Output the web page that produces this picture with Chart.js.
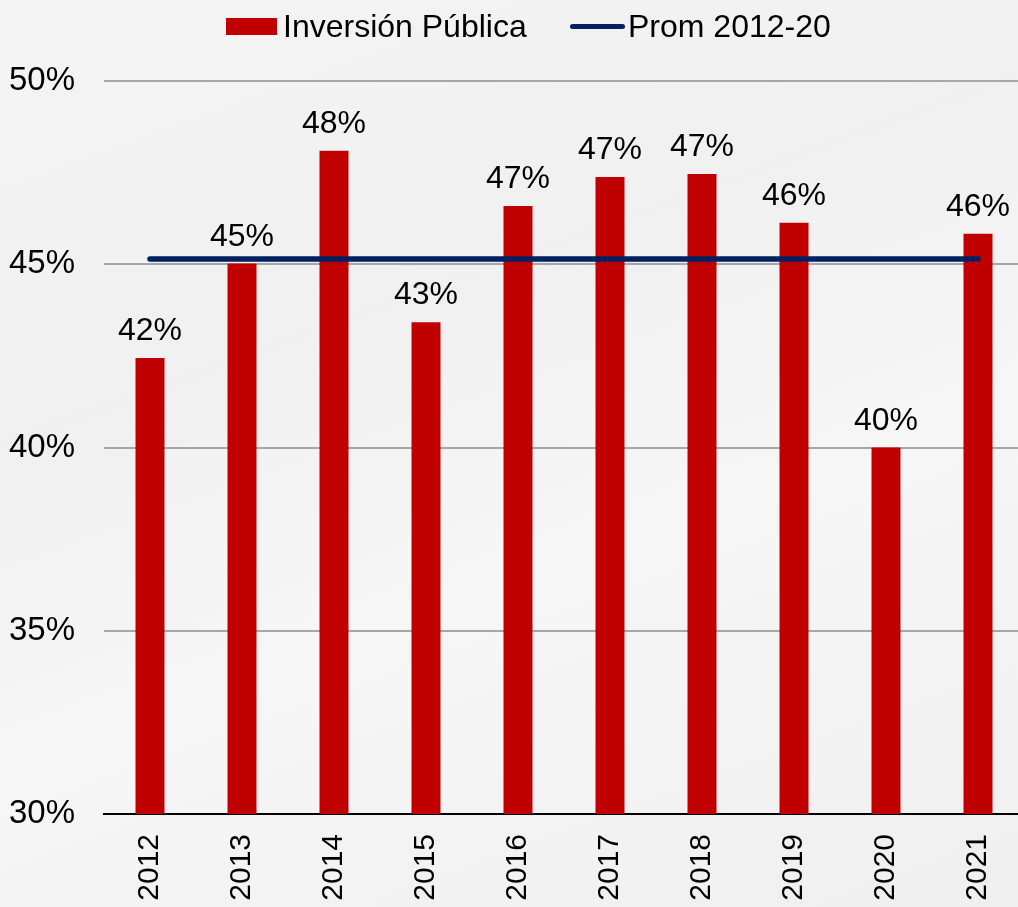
<!DOCTYPE html>
<html>
<head>
<meta charset="utf-8">
<script src="https://cdn.jsdelivr.net/npm/chart.js@4.4.0/dist/chart.umd.min.js"></script>
<style>
  html, body { margin: 0; padding: 0; overflow: hidden; }
  body {
    width: 1018px; height: 907px;
    background: linear-gradient(160deg, #f4f4f4 0%, #f0f0f0 35%, #f6f6f6 60%, #efefef 100%);
    font-family: "Liberation Sans", Arial, sans-serif;
    position: relative;
  }
  #wrap { position: absolute; left: 0; top: 0; width: 1024px; height: 907px; }
  #legend {
    position: absolute; top: 8px; left: 0; width: 1018px; height: 36px;
    font-size: 32px; color: #000; z-index: 2;
  }
  .item { position: absolute; top: 0; display: flex; align-items: center; height: 36px; white-space: nowrap; }
  .box { width: 51px; height: 17px; background: #C00000; margin-right: 6px; }
  .ln { width: 55px; height: 5px; border-radius: 3px; background: #002060; margin-right: 3px; }
</style>
</head>
<body>
<div id="legend">
  <div class="item" style="left:226px"><span class="box"></span><span>Inversión Pública</span></div>
  <div class="item" style="left:570px"><span class="ln"></span><span>Prom 2012-20</span></div>
</div>
<div id="wrap"><canvas id="c" width="1024" height="907"></canvas></div>
<script>
const categories = ["2012","2013","2014","2015","2016","2017","2018","2019","2020","2021"];
const inversionPublica = [42.44, 45.02, 48.1, 43.42, 46.59, 47.38, 47.46, 46.13, 40.0, 45.83];
const prom2012_20 = [45.14, 45.14, 45.14, 45.14, 45.14, 45.14, 45.14, 45.14, 45.14, 45.14];
const yTicks = [30, 35, 40, 45, 50];

const FONT = '"Liberation Sans", Arial, sans-serif';

const labelPlugin = {
  id: 'barLabels',
  afterDatasetsDraw(chart) {
    const meta = chart.getDatasetMeta(0);
    const ctx = chart.ctx;
    ctx.save();
    ctx.font = '32px ' + FONT;
    ctx.fillStyle = '#000';
    ctx.textAlign = 'center';
    ctx.textBaseline = 'alphabetic';
    meta.data.forEach((bar, i) => {
      const v = chart.data.datasets[0].data[i];
      ctx.fillText(Math.round(v) + '%', bar.x, bar.y - 18);
    });
    ctx.restore();
  }
};

new Chart(document.getElementById('c'), {
  type: 'bar',
  data: {
    labels: categories,
    datasets: [
      {
        type: 'bar',
        label: 'Inversión Pública',
        data: inversionPublica,
        backgroundColor: '#C00000',
        categoryPercentage: 1.0,
        barPercentage: 0.315,
        order: 1
      },
      {
        type: 'line',
        label: 'Prom 2012-20',
        data: prom2012_20,
        borderColor: '#002060',
        borderWidth: 5.5,
        borderCapStyle: 'round',
        pointRadius: 0,
        fill: false,
        order: 0
      }
    ]
  },
  options: {
    responsive: false,
    animation: false,
    devicePixelRatio: 1,
    layout: { padding: { left: 0, right: 0, top: 81, bottom: 0 } },
    plugins: { legend: { display: false }, tooltip: { enabled: false } },
    scales: {
      x: {
        grid: { display: false },
        border: { display: true, color: '#000', width: 2 },
        afterFit(axis) { axis.height = 93; axis.paddingLeft = 0; axis.paddingRight = 0; },
        ticks: {
          color: '#000',
          font: { size: 30, family: FONT },
          maxRotation: 90, minRotation: 90,
          padding: 12
        }
      },
      y: {
        min: 30, max: 50,
        afterBuildTicks(axis) { axis.ticks = yTicks.map(v => ({ value: v })); },
        afterFit(axis) { axis.width = 104; axis.paddingTop = 0; axis.paddingBottom = 0; },
        grid: { color: '#a6a6a6', lineWidth: 2, drawTicks: false },
        border: { display: false },
        ticks: {
          color: '#000',
          font: { size: 33, family: FONT },
          padding: 29,
          callback: v => v + '%'
        }
      }
    }
  },
  plugins: [labelPlugin]
});
</script>
</body>
</html>
